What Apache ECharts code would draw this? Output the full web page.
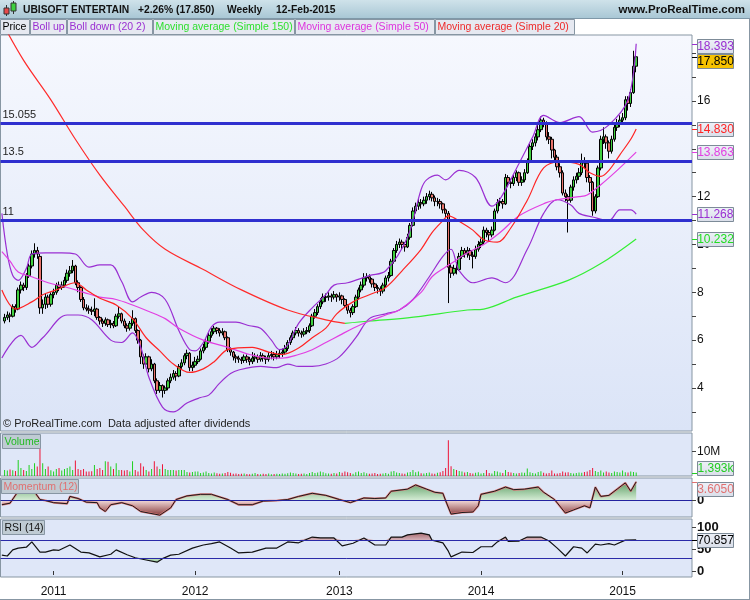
<!DOCTYPE html>
<html><head><meta charset="utf-8">
<script src="https://cdn.jsdelivr.net/npm/echarts@6/dist/echarts.min.js"></script>
<style>html,body{margin:0;padding:0;background:#fff}#c{width:750px;height:600px}</style>
</head><body><div id="c"></div>
<script>
// ---------- DATA ----------
const firstWeek = '2010-08-23';          // lead-in week (empty), candles start the week after
const weeksOnAxis = 254;
const yearLabels = ['2011', '2012', '2013', '2014', '2015'];
const levels = [15.055, 13.5, 11];
const levelLabels = ['15.055', '13.5', '11'];
// weekly candles [open, close, low, high]
const ohlc = [
[6.8,6.95,6.7,7.1],[6.95,7.05,6.85,7.2],[7.05,7.0,6.75,7.15],[7.0,7.4,6.95,7.5],[7.4,7.3,7.15,7.5],
[7.3,8.1,7.25,8.2],[8.1,8.3,7.95,8.45],[8.3,8.2,8.05,8.4],[8.2,8.7,8.1,8.8],[8.7,9.1,8.6,9.2],
[9.1,9.6,9.0,9.75],[9.6,9.75,9.45,10.05],[9.75,9.6,9.4,9.9],[9.5,7.35,7.1,9.6],[7.35,7.5,7.1,7.7],
[7.5,7.8,7.3,7.95],[7.8,7.5,7.35,7.9],[7.5,7.9,7.4,8.0],[7.9,8.0,7.75,8.15],[8.0,8.3,7.9,8.4],
[8.3,8.2,8.05,8.45],[8.2,8.3,8.1,8.45],[8.3,8.5,8.2,8.65],[8.5,8.8,8.4,8.95],[8.8,8.9,8.65,9.1],
[8.9,9.1,8.8,9.35],[9.1,8.4,8.3,9.15],[8.4,8.2,8.0,8.5],[8.2,7.7,7.6,8.25],[7.7,7.35,7.25,7.8],
[7.35,7.3,7.2,7.5],[7.3,7.25,7.1,7.45],[7.25,7.2,7.05,7.4],[7.2,7.3,7.0,7.75],[7.3,6.95,6.85,7.35],
[6.95,6.8,6.65,7.0],[6.8,6.7,6.55,6.9],[6.7,6.85,6.6,6.95],[6.85,6.65,6.55,6.9],[6.65,6.7,6.5,6.85],
[6.7,6.6,6.5,6.8],[6.6,7.0,6.55,7.1],[7.0,7.1,6.9,7.4],[7.1,6.8,6.7,7.15],[6.8,6.6,6.5,6.9],
[6.6,6.5,6.35,6.7],[6.5,6.7,6.4,6.8],[6.7,6.9,6.6,7.25],[6.9,6.4,6.3,6.95],[6.4,6.0,5.85,6.45],
[6.0,5.3,5.0,6.05],[5.3,5.0,4.8,5.4],[5.0,5.3,4.9,5.45],[5.3,4.8,4.65,5.35],[4.8,5.0,4.7,5.2],
[5.0,4.3,4.2,5.05],[4.3,3.9,3.75,4.4],[3.9,4.1,3.8,4.25],[4.1,3.9,3.6,4.15],[3.9,4.0,3.75,4.1],
[4.0,4.3,3.9,4.4],[4.3,4.45,4.2,4.6],[4.45,4.6,4.35,4.75],[4.6,4.5,4.3,4.7],[4.5,4.9,4.45,5.0],
[4.9,5.05,4.8,5.2],[5.05,5.35,4.95,5.45],[5.35,5.45,5.2,5.6],[5.45,4.85,4.7,5.5],[4.85,4.95,4.7,5.1],
[4.95,5.1,4.85,5.3],[5.1,5.2,5.0,5.35],[5.2,5.55,5.15,5.65],[5.55,5.7,5.45,5.85],[5.7,5.95,5.6,6.05],
[5.95,6.2,5.85,6.3],[6.2,6.35,6.1,6.5],[6.35,6.5,6.25,6.6],[6.5,6.4,6.25,6.55],[6.4,6.3,6.15,6.5],
[6.3,6.35,6.2,6.5],[6.35,6.1,6.0,6.4],[6.1,5.6,5.5,6.15],[5.6,5.5,5.35,5.7],[5.5,5.3,5.15,5.55],
[5.3,5.25,5.05,5.4],[5.25,5.2,5.05,5.35],[5.2,5.15,5.0,5.3],[5.15,5.3,5.05,5.4],[5.3,5.2,5.05,5.4],
[5.2,5.1,4.95,5.3],[5.1,5.25,5.0,5.5],[5.25,5.3,5.1,5.45],[5.3,5.2,5.05,5.4],[5.2,5.35,5.1,5.5],
[5.35,5.25,5.1,5.45],[5.25,5.2,5.0,5.35],[5.2,5.35,5.1,5.5],[5.35,5.4,5.2,5.55],[5.4,5.3,5.15,5.5],
[5.3,5.4,5.2,5.55],[5.4,5.45,5.25,5.6],[5.45,5.5,5.3,5.65],[5.5,5.65,5.4,5.8],[5.65,5.9,5.55,6.0],
[5.9,6.1,5.8,6.2],[6.1,6.3,6.0,6.4],[6.3,6.4,6.2,6.55],[6.4,6.3,6.15,6.5],[6.3,6.25,6.1,6.4],
[6.25,6.35,6.15,6.5],[6.35,6.4,6.25,6.55],[6.4,6.6,6.3,6.7],[6.6,7.0,6.55,7.1],[7.0,7.15,6.9,7.3],
[7.15,7.4,7.05,7.5],[7.4,7.6,7.3,7.75],[7.6,7.8,7.5,7.95],[7.8,7.8,7.6,7.95],[7.8,7.85,7.65,8.0],
[7.85,7.8,7.6,7.95],[7.8,7.9,7.7,8.05],[7.9,7.8,7.6,7.95],[7.8,7.85,7.65,8.0],[7.85,7.7,7.5,7.9],
[7.7,7.45,7.35,7.75],[7.45,7.25,7.1,7.5],[7.25,7.15,6.95,7.35],[7.15,7.4,7.05,7.5],[7.4,7.8,7.35,7.9],
[7.8,8.1,7.7,8.2],[8.1,8.3,8.0,8.45],[8.3,8.6,8.2,8.8],[8.6,8.65,8.45,8.8],[8.65,8.55,8.4,8.75],
[8.55,8.35,8.2,8.6],[8.35,8.2,8.05,8.4],[8.2,8.15,7.95,8.3],[8.15,8.05,7.85,8.25],[8.05,8.3,7.95,8.4],
[8.3,8.6,8.2,8.7],[8.6,8.7,8.45,8.85],[8.7,9.3,8.65,9.4],[9.3,9.75,9.2,9.85],[9.75,10.0,9.65,10.15],
[10.0,10.1,9.85,10.25],[10.1,10.0,9.8,10.2],[10.0,9.9,9.7,10.1],[9.9,10.3,9.85,10.45],[10.3,10.8,10.2,10.9],
[10.8,11.4,10.75,11.55],[11.4,11.6,11.3,11.75],[11.6,11.75,11.45,11.9],[11.75,11.7,11.5,11.9],[11.7,11.85,11.6,12.0],
[11.85,12.0,11.7,12.15],[12.0,12.1,11.85,12.25],[12.1,11.95,11.8,12.2],[11.95,11.8,11.6,12.05],[11.8,11.8,11.6,11.95],
[11.8,11.7,11.5,11.9],[11.7,11.45,11.3,11.75],[11.45,11.3,11.1,11.5],[11.3,9.05,7.55,11.4],[9.05,8.8,8.6,9.2],
[8.8,9.0,8.7,9.15],[9.0,8.95,8.75,9.25],[8.95,9.5,8.9,9.65],[9.5,9.75,9.4,9.9],[9.75,9.6,9.45,9.85],
[9.6,9.75,9.45,9.9],[9.75,9.55,9.35,9.85],[9.55,9.5,9.0,9.7],[9.5,9.8,9.4,9.95],[9.8,10.0,9.7,10.15],
[10.0,10.1,9.85,10.25],[10.1,10.6,10.0,10.75],[10.6,10.5,10.3,10.7],[10.5,10.4,10.1,10.6],[10.4,10.6,10.3,10.75],
[10.6,11.4,10.55,11.5],[11.4,11.75,11.3,11.9],[11.75,11.8,11.6,11.95],[11.8,11.7,11.5,11.9],[11.7,12.8,11.65,12.95],
[12.8,12.6,12.4,12.9],[12.6,12.55,12.35,12.75],[12.55,12.8,12.45,12.95],[12.8,13.0,12.65,13.1],[13.0,12.6,12.45,13.05],
[12.6,12.7,12.45,12.85],[12.7,13.0,12.6,13.15],[13.0,13.45,12.95,13.6],[13.45,14.1,13.4,14.2],[14.1,14.25,13.95,14.4],
[14.25,14.5,14.1,14.65],[14.5,14.8,14.35,15.0],[14.8,15.2,14.7,15.35],[15.2,15.1,14.9,15.3],[15.1,14.5,14.35,15.15],
[14.5,14.4,14.2,14.7],[14.4,13.95,13.6,14.5],[13.95,13.65,13.5,14.0],[13.65,13.25,13.1,13.75],[13.25,13.0,12.8,13.4],
[13.0,12.15,12.05,13.1],[12.15,12.0,11.8,12.3],[12.0,11.85,10.5,12.1],[11.85,12.4,11.75,12.5],[12.4,12.7,12.25,12.85],
[12.7,12.85,12.55,13.0],[12.85,13.0,12.7,13.2],[13.0,13.5,12.9,13.8],[13.5,13.4,13.2,13.65],[13.4,12.8,12.6,13.45],
[12.8,12.6,12.2,12.9],[12.6,11.4,11.2,12.65],[11.4,12.0,11.3,12.1],[12.0,13.2,11.95,13.3],[13.2,14.4,13.1,14.55],
[14.4,14.5,14.2,14.9],[14.5,14.25,14.0,14.6],[14.25,13.9,13.6,14.35],[13.9,14.4,13.8,14.55],[14.4,14.9,14.3,15.05],
[14.9,15.1,14.75,15.25],[15.1,15.2,14.9,15.4],[15.2,15.3,15.05,15.5],[15.3,16.05,15.2,16.2],[16.05,15.9,15.6,16.2],
[15.9,16.35,15.75,16.5],[16.35,17.455,16.3,18.1],[17.455,17.85,17.2,17.95]
];
// weekly volume, millions
const volume = [
2.4,2.2,2.6,2.3,2.0,6.5,3.2,2.4,2.0,4.5,2.8,5.2,3.8,13.0,5.2,2.8,3.8,2.3,1.8,2.8,
3.2,2.2,2.8,3.2,3.8,2.4,6.3,2.8,2.4,2.8,1.8,1.8,1.9,4.5,2.8,3.2,2.4,6.0,5.8,3.8,
2.8,5.2,2.4,2.4,2.2,2.4,1.8,6.0,2.4,1.8,5.2,3.8,2.4,1.8,2.8,6.0,3.8,2.8,4.8,2.8,
2.4,2.4,2.4,2.2,2.4,2.4,2.4,1.6,1.4,1.6,1.8,1.8,1.2,1.4,1.8,1.2,1.0,1.4,1.1,0.9,
1.0,1.2,1.6,1.3,0.9,1.0,0.8,0.9,1.0,0.8,0.7,0.9,1.2,0.8,0.7,0.9,0.8,1.0,0.7,0.8,
0.9,0.8,1.0,0.9,1.1,1.4,1.2,1.0,0.8,0.9,1.0,0.8,1.2,1.6,1.2,1.4,1.8,1.5,1.1,1.0,
0.9,1.2,1.0,1.6,1.3,1.8,1.5,1.2,0.9,1.5,1.8,1.2,1.5,1.1,0.9,1.0,1.2,0.8,0.9,1.0,
1.2,0.9,1.8,2.0,1.4,1.2,1.0,0.9,1.4,1.6,2.4,1.5,1.8,1.1,1.0,1.2,1.4,1.0,0.9,1.3,
1.5,2.0,3.2,14.5,3.9,2.8,2.4,2.0,1.8,1.4,1.6,1.2,1.0,1.3,1.5,1.0,1.2,2.4,1.2,1.0,
2.0,1.8,1.4,1.2,2.4,1.6,1.4,1.2,1.0,1.2,1.4,1.3,3.0,1.5,1.2,1.0,1.6,1.9,1.3,1.0,
1.2,2.2,1.0,1.0,1.2,1.8,1.4,1.5,1.2,1.0,1.2,1.4,1.3,1.6,1.8,2.4,3.2,2.0,1.6,2.2,
1.4,1.8,1.4,1.2,1.8,1.6,1.4,2.2,1.5,1.4,1.8,1.6,1.393
];
// indicator readings: [week index on axis, value]
const bollUp = [[0,11.3],[2,9.6],[4,8.7],[6,8.5],[9,9.0],[11,9.6],[16,9.65],[22,9.65],[27,9.6],[32,9.05],[36,9.15],[40,9.15],[44,8.45],[48,7.6],[51,7.8],[55,8.0],[60,7.7],[65,6.4],[69,5.6],[71,5.55],[74,5.9],[77,6.55],[80,6.75],[86,6.75],[91,6.6],[95,6.5],[99,6.0],[102,5.6],[105,5.8],[109,6.7],[114,7.35],[119,7.9],[122,8.3],[127,8.4],[135,8.7],[141,8.9],[149,10.3],[154,12.3],[156,12.7],[160,12.9],[163,12.7],[168,13.1],[174,12.8],[180,11.6],[183,11.9],[190,13.4],[195,14.5],[199,15.4],[205,15.1],[212,15.35],[217,14.7],[223,15.0],[230,16.05],[233,18.393]];
const bollDown = [[0,5.25],[7,6.2],[11,5.7],[15,6.1],[24,7.05],[28,7.05],[33,6.85],[40,6.0],[44,5.9],[48,6.3],[51,5.7],[54,4.45],[59,3.2],[63,3.0],[68,3.37],[73,3.6],[76,3.7],[80,4.2],[84,4.6],[87,4.75],[95,4.9],[101,4.85],[105,5.0],[109,4.9],[114,4.9],[119,5.0],[124,5.3],[130,6.1],[135,6.9],[141,7.1],[146,7.26],[151,7.7],[157,8.65],[162,9.5],[165,9.8],[167,9.2],[168,8.9],[173,8.4],[180,8.6],[185,8.4],[193,9.8],[199,11.3],[204,11.87],[209,11.65],[212,11.3],[217,11.15],[223,11.0],[227,11.45],[231,11.45],[233,11.268]];
const ma20 = [[0,8.1],[5,7.3],[11,7.6],[15,7.9],[20,8.1],[27,8.4],[31,8.1],[36,7.75],[42,7.47],[48,6.9],[53,6.1],[58,5.55],[63,5.0],[69,4.65],[74,4.8],[78,5.1],[83,5.6],[92,5.7],[98,5.5],[103,5.4],[109,5.67],[114,6.1],[119,6.5],[123,7.1],[129,7.6],[135,7.9],[141,8.2],[147,8.9],[154,9.8],[158,10.5],[162,11.0],[164,11.2],[169,10.9],[173,10.6],[177,10.2],[182,10.1],[187,10.7],[193,11.85],[199,13.2],[205,13.45],[212,13.35],[216,13.0],[220,12.85],[223,13.1],[227,13.75],[231,14.4],[233,14.83]];
const ma50 = [[0,9.7],[3,9.3],[6,8.85],[11,8.65],[17,8.4],[24,8.2],[30,8.0],[36,7.8],[42,7.7],[48,7.47],[54,7.2],[60,6.9],[65,6.5],[74,6.0],[83,5.7],[91,5.4],[98,5.25],[103,5.25],[109,5.4],[114,5.6],[119,5.9],[124,6.2],[129,6.5],[135,6.8],[141,7.05],[146,7.26],[154,8.0],[158,8.65],[163,9.06],[165,9.2],[171,9.65],[177,10.0],[183,10.5],[190,11.2],[200,11.75],[204,11.87],[212,12.0],[215,12.07],[220,12.5],[226,13.1],[233,13.863]];
const ma150Down = [[0,19.3],[8,17.7],[18,16.05],[27,14.4],[36,12.9],[45,11.6],[52,10.6],[60,9.8],[74,8.95],[88,8.1],[105,7.26],[119,6.85],[126,6.7]];
const ma150Up = [[126,6.7],[135,6.8],[149,6.93],[171,7.26],[177,7.3],[189,7.8],[208,8.5],[220,9.2],[233,10.232]];
const momentum = [[0,-0.8],[3,-0.5],[6,1.8],[8,2.6],[11,2.4],[14,0.2],[16,0],[19,-0.4],[24,-0.6],[25,0.8],[28,0.4],[31,-0.3],[35,-0.4],[36,-1.4],[38,-2.1],[40,-0.8],[44,-0.4],[48,-1.0],[51,-2.1],[54,-2.4],[58,-2.8],[62,-1.4],[64,0.2],[68,0.9],[73,1.2],[77,1.2],[83,0.2],[87,-0.8],[92,-0.8],[96,-0.1],[101,0],[105,0.2],[109,0.8],[114,1.4],[119,1.0],[124,0.2],[128,-0.4],[133,0.5],[137,0.4],[141,0.5],[143,1.8],[149,2.2],[152,3.0],[156,2.2],[159,1.6],[162,1.4],[163,0],[165,-2.6],[169,-2.3],[173,-2.2],[175,-1.0],[176,1.2],[181,1.8],[185,2.6],[188,2.1],[192,2.2],[197,2.6],[199,1.6],[203,0.2],[207,-2.4],[210,-1.8],[214,-1.0],[216,-1.4],[218,2.6],[220,0.8],[223,1.0],[226,2.2],[229,3.4],[231,1.8],[233,3.605]];
const rsi = [[0,36],[2,34],[4,48],[6,52],[9,54],[11,66],[14,43],[16,43],[19,48],[21,47],[25,59],[29,43],[32,41],[36,32],[40,38],[42,48],[46,37],[49,30],[53,25],[57,20],[59,28],[62,36],[65,38],[70,52],[74,59],[77,62],[80,66],[84,52],[87,41],[92,43],[97,52],[101,52],[105,66],[109,64],[114,77],[117,75],[122,75],[125,57],[129,63],[133,75],[137,59],[141,59],[143,77],[147,77],[149,82],[154,86],[157,82],[158,70],[162,64],[164,45],[165,32],[169,43],[173,42],[176,55],[180,55],[182,66],[185,77],[186,67],[190,68],[193,77],[198,77],[201,68],[204,52],[207,34],[210,55],[213,52],[215,41],[218,61],[220,59],[223,62],[225,59],[229,70],[233,70.857]];

// ---------- CHART ----------
const chart = echarts.init(document.getElementById('c'), null, {renderer: 'canvas'});
const DAY = 864e5;
const t0 = Date.parse(firstWeek + 'T00:00:00Z');
const cats = Array.from({length: weeksOnAxis}, (_, k) => new Date(t0 + k * 7 * DAY).toISOString().slice(0, 10));
const isYearStart = k => k > 0 && cats[k].slice(0, 4) !== cats[k - 1].slice(0, 4) && yearLabels.includes(cats[k].slice(0, 4));

const candleData = ohlc.map((d, i) => [i + 1, d[0], d[1], d[2], d[3]]);
const volData = volume.map((v, i) => ({value: [i + 1, v], itemStyle: {color: ohlc[i][1] >= ohlc[i][0] ? '#1fd01f' : '#ee1436'}}));

const FONT = 'Liberation Sans, Arial, sans-serif';
const G = [
  {top: 35, height: 396},
  {top: 433, height: 43},
  {top: 478, height: 39},
  {top: 519, height: 58}
];
const gradMain = new echarts.graphic.LinearGradient(0, 0, 0, 1, [{offset: 0, color: '#f6f8fe'}, {offset: 1, color: '#dbe4f7'}]);
const grids = G.map((g, i) => ({left: 0.5, width: 691.5, top: g.top, height: g.height, show: true,
  borderColor: '#8796a3', borderWidth: 1, backgroundColor: i === 0 ? gradMain : '#dfe7f8'}));

const xAxes = G.map((g, i) => ({
  type: 'category', gridIndex: i, data: cats, boundaryGap: true,
  axisLine: {show: false}, splitLine: {show: false},
  axisTick: {show: i === 3, alignWithLabel: true, interval: (k) => isYearStart(k), length: 4, lineStyle: {color: '#333'}},
  axisLabel: {show: i === 3, interval: (k) => isYearStart(k), formatter: v => v.slice(0, 4), color: '#111', fontFamily: FONT, fontSize: 12, margin: 9}
}));

const yCommon = {position: 'right', splitLine: {show: false}, axisLine: {show: false},
  axisTick: {show: true, length: 4, lineStyle: {color: '#444'}},
  axisLabel: {color: '#111', fontFamily: FONT, fontSize: 12, margin: 5}};
const priceTicks = [3,4,5,6,7,8,9,10,11,12,13,14,15,16,17,18];
const yAxes = [
  Object.assign({}, yCommon, {gridIndex: 0, min: 2.2, max: 18.76,
    axisTick: Object.assign({}, yCommon.axisTick, {customValues: priceTicks}),
    axisLabel: Object.assign({}, yCommon.axisLabel, {customValues: [4, 6, 8, 10, 12, 16]})}),
  Object.assign({}, yCommon, {gridIndex: 1, min: 0, max: 17.4,
    axisTick: Object.assign({}, yCommon.axisTick, {customValues: [10]}),
    axisLabel: Object.assign({}, yCommon.axisLabel, {customValues: [10], formatter: v => v + 'M'})}),
  Object.assign({}, yCommon, {gridIndex: 2, min: -3.16, max: 4.34,
    axisTick: Object.assign({}, yCommon.axisTick, {customValues: [0]}),
    axisLabel: Object.assign({}, yCommon.axisLabel, {customValues: [0], fontWeight: 'bold', fontSize: 13})}),
  Object.assign({}, yCommon, {gridIndex: 3, min: -13.6, max: 118,
    axisTick: Object.assign({}, yCommon.axisTick, {customValues: [0, 50, 100]}),
    axisLabel: Object.assign({}, yCommon.axisLabel, {customValues: [0, 50, 100], fontWeight: 'bold', fontSize: 13})})
];

const lineS = (data, color, name, width) => ({type: 'line', name, data, xAxisIndex: 0, yAxisIndex: 0, symbol: 'none',
  smooth: 0.35, lineStyle: {color, width: width || 1.2}, z: 3, silent: true});

const gradMomArea = new echarts.graphic.LinearGradient(0, 478, 0, 517, [
  {offset: 0, color: '#3f8b48'}, {offset: 0.58, color: '#d8eed8'}, {offset: 0.58, color: '#efd6d6'}, {offset: 1, color: '#7c2a2a'}], true);
const gradRsiHi = new echarts.graphic.LinearGradient(0, 527, 0, 541, [{offset: 0, color: '#7d2a2e'}, {offset: 1, color: '#dcbcc4'}], true);
const gradRsiLo = new echarts.graphic.LinearGradient(0, 557, 0, 571, [{offset: 0, color: '#cfe9cf'}, {offset: 1, color: '#3d8a44'}], true);

const series = [
  {type: 'candlestick', name: 'Price', xAxisIndex: 0, yAxisIndex: 0, data: candleData,
    encode: {x: 0, y: [1, 2, 3, 4]}, barWidth: 3,
    itemStyle: {color: '#3fd03f', color0: '#e8736b', borderColor: '#000', borderColor0: '#000', borderWidth: 1},
    z: 2, silent: true,
    markLine: {silent: true, symbol: 'none', z: 5, animation: false, precision: 3,
      lineStyle: {color: '#2f2fcf', width: 3, type: 'solid'},
      label: {show: true, position: 'insideStartTop', formatter: '{b}', color: '#222', fontFamily: FONT, fontSize: 11, distance: [2, 3]},
      data: levels.map((v, i) => ({yAxis: v, name: levelLabels[i]}))}},
  lineS(bollUp, '#9a2fd2', 'Boll up'),
  lineS(bollDown, '#9a2fd2', 'Boll down'),
  lineS(ma150Down, '#ff2b2b', 'MA150'),
  lineS(ma150Up, '#35ee35', 'MA150'),
  lineS(ma50, '#e23fe2', 'MA50'),
  lineS(ma20, '#ff2424', 'MA20'),
  {type: 'bar', xAxisIndex: 1, yAxisIndex: 1, data: volData, barWidth: 1, silent: true},
  {type: 'line', xAxisIndex: 2, yAxisIndex: 2, data: momentum, symbol: 'none', silent: true,
    lineStyle: {color: '#e07a7a', width: 2}, areaStyle: {color: gradMomArea, opacity: 1},
    markLine: {silent: true, symbol: 'none', animation: false, lineStyle: {color: '#23239f', width: 1, type: 'solid'}, label: {show: false}, data: [{yAxis: 0}]}},
  {type: 'line', xAxisIndex: 2, yAxisIndex: 2, data: momentum, symbol: 'none', silent: true, lineStyle: {color: '#1a1a1a', width: 1}},
  {type: 'line', xAxisIndex: 3, yAxisIndex: 3, stack: 'hi', data: rsi.map(d => [d[0], 70]), symbol: 'none', silent: true, lineStyle: {width: 0}},
  {type: 'line', xAxisIndex: 3, yAxisIndex: 3, stack: 'hi', data: rsi.map(d => [d[0], Math.max(d[1] - 70, 0)]), symbol: 'none', silent: true, lineStyle: {width: 0}, areaStyle: {color: gradRsiHi, opacity: 1}},
  {type: 'line', xAxisIndex: 3, yAxisIndex: 3, stack: 'lo', data: rsi.map(d => [d[0], Math.min(d[1], 30)]), symbol: 'none', silent: true, lineStyle: {width: 0}},
  {type: 'line', xAxisIndex: 3, yAxisIndex: 3, stack: 'lo', data: rsi.map(d => [d[0], 30 - Math.min(d[1], 30)]), symbol: 'none', silent: true, lineStyle: {width: 0}, areaStyle: {color: gradRsiLo, opacity: 1}},
  {type: 'line', xAxisIndex: 3, yAxisIndex: 3, data: rsi, symbol: 'none', silent: true, lineStyle: {color: '#111', width: 1.2},
    markLine: {silent: true, symbol: 'none', animation: false, lineStyle: {color: '#2a2aa8', width: 1, type: 'solid'}, label: {show: false}, data: [{yAxis: 30}, {yAxis: 70}]}}
];

// static decorations
const boxFill = new echarts.graphic.LinearGradient(0, 0, 0, 1, [{offset: 0, color: '#eef1f8'}, {offset: 1, color: '#d9dee9'}]);
const legendItems = [
  ['Price', '#000', 0, 29], ['Boll up', '#9a2fd2', 30, 36], ['Boll down (20 2)', '#9a2fd2', 67, 85],
  ['Moving average (Simple 150)', '#2fe02f', 153, 141], ['Moving average (Simple 50)', '#dd33dd', 295, 139],
  ['Moving average (Simple 20)', '#ee2a2a', 435, 139]
];
const TF = 'bold 10.3px ' + FONT;
const staticG = [
  {type: 'rect', shape: {x: 0, y: 0, width: 750, height: 18}, style: {fill: new echarts.graphic.LinearGradient(0, 0, 0, 1, [{offset: 0, color: '#cfe2ea'}, {offset: 1, color: '#a9c7d5'}])}, silent: true},
  {type: 'line', shape: {x1: 0, y1: 18.5, x2: 750, y2: 18.5}, style: {stroke: '#7f98a8', lineWidth: 1}, silent: true},
  // icon
  {type: 'line', shape: {x1: 6.5, y1: 5, x2: 6.5, y2: 16}, style: {stroke: '#333', lineWidth: 1}, silent: true},
  {type: 'rect', shape: {x: 4, y: 8, width: 5, height: 6}, style: {fill: '#e84a4a', stroke: '#333', lineWidth: 1}, silent: true},
  {type: 'line', shape: {x1: 13.5, y1: 1, x2: 13.5, y2: 14}, style: {stroke: '#333', lineWidth: 1}, silent: true},
  {type: 'rect', shape: {x: 11, y: 3, width: 5, height: 8}, style: {fill: '#3fd03f', stroke: '#333', lineWidth: 1}, silent: true},
  {type: 'text', x: 23, y: 10, style: {text: 'UBISOFT ENTERTAIN', font: TF, fill: '#111', verticalAlign: 'middle'}, silent: true},
  {type: 'text', x: 138, y: 10, style: {text: '+2.26% (17.850)', font: TF, fill: '#111', verticalAlign: 'middle'}, silent: true},
  {type: 'text', x: 227, y: 10, style: {text: 'Weekly', font: TF, fill: '#111', verticalAlign: 'middle'}, silent: true},
  {type: 'text', x: 276, y: 10, style: {text: '12-Feb-2015', font: TF, fill: '#111', verticalAlign: 'middle'}, silent: true},
  {type: 'text', x: 745, y: 10, style: {text: 'www.ProRealTime.com', font: 'bold 11.5px ' + FONT, fill: '#111', align: 'right', verticalAlign: 'middle'}, silent: true},
  {type: 'line', shape: {x1: 749.5, y1: 18, x2: 749.5, y2: 600}, style: {stroke: '#8796a3', lineWidth: 1}, silent: true},
  {type: 'line', shape: {x1: 0, y1: 599.5, x2: 750, y2: 599.5}, style: {stroke: '#8796a3', lineWidth: 1}, silent: true},
  {type: 'text', x: 3, y: 424, style: {text: '\u00a9 ProRealTime.com  Data adjusted after dividends', font: '11px ' + FONT, fill: '#222', verticalAlign: 'middle'}, silent: true, z: 10}
];
legendItems.forEach(([t, c, x, w]) => {
  staticG.push({type: 'rect', shape: {x: x + 0.5, y: 19.5, width: w, height: 15}, style: {fill: '#e6e9f1', stroke: '#8796a3', lineWidth: 1}, silent: true});
  staticG.push({type: 'text', x: x + 2.5, y: 27.5, style: {text: t, font: '10.5px ' + FONT, fill: c, verticalAlign: 'middle'}, silent: true});
});
[['Volume', '#22bb22', 2, 434, 38], ['Momentum (12)', '#e07070', 1, 479, 77], ['RSI (14)', '#111', 2, 520, 42]].forEach(([t, c, x, y, w]) => {
  staticG.push({type: 'rect', shape: {x: x + 0.5, y: y + 0.5, width: w, height: 14}, style: {fill: '#bfcbd3', stroke: '#8796a3', lineWidth: 1}, silent: true, z: 10});
  staticG.push({type: 'text', x: x + 2.5, y: y + 8, style: {text: t, font: '10.5px ' + FONT, fill: c, verticalAlign: 'middle'}, silent: true, z: 11});
});

chart.setOption({
  animation: false, backgroundColor: '#ffffff',
  grid: grids, xAxis: xAxes, yAxis: yAxes, series, graphic: staticG
});

// value boxes on the right, positioned through the axes
const last = a => a[a.length - 1];
const lastClose = last(ohlc)[1];
const boxes = [
  {g: 0, v: last(bollUp)[1], t: last(bollUp)[1].toFixed(3), c: '#9a2fd2'},
  {g: 0, v: lastClose, t: lastClose.toFixed(3), c: '#000', bg: '#f6c200'},
  {g: 0, v: last(ma20)[1], t: last(ma20)[1].toFixed(3), c: '#ff2424'},
  {g: 0, v: last(ma50)[1], t: last(ma50)[1].toFixed(3), c: '#e23fe2'},
  {g: 0, v: last(bollDown)[1], t: last(bollDown)[1].toFixed(3), c: '#9a2fd2'},
  {g: 0, v: last(ma150Up)[1], t: last(ma150Up)[1].toFixed(3), c: '#22dd22'},
  {g: 1, v: last(volume), t: Math.round(last(volume) * 1000).toLocaleString('en-US') + 'k', c: '#22cc22'},
  {g: 2, v: last(momentum)[1], t: last(momentum)[1].toFixed(4), c: '#e07070'},
  {g: 3, v: last(rsi)[1], t: last(rsi)[1].toFixed(3), c: '#000'}
];
const BH = 14;
boxes.forEach(b => {
  b.y = chart.convertToPixel({xAxisIndex: b.g, yAxisIndex: b.g}, [0, b.v])[1];
  b.cy = b.y;
});
for (let g = 0; g < 4; g++) {
  const list = boxes.filter(b => b.g === g).sort((a, b) => a.y - b.y);
  const top = G[g].top, bot = G[g].top + G[g].height;
  list.forEach((b, i) => {
    b.cy = Math.max(b.cy, top + BH / 2 + 4);
    b.cy = Math.min(b.cy, bot - BH / 2 - 1);
    if (i > 0 && b.cy < list[i - 1].cy + BH + 1) b.cy = list[i - 1].cy + BH + 1;
  });
}
const boxG = [];
boxes.forEach(b => {
  boxG.push({type: 'line', shape: {x1: 692, y1: Math.round(b.y) + 0.5, x2: 697, y2: Math.round(b.y) + 0.5}, style: {stroke: b.c, lineWidth: 1}, silent: true, z: 20});
  boxG.push({type: 'rect', shape: {x: 697.5, y: Math.round(b.cy - BH / 2) + 0.5, width: 36, height: BH}, style: {fill: b.bg || boxFill, stroke: '#7d8b98', lineWidth: 1}, silent: true, z: 20});
  boxG.push({type: 'text', x: 715.5, y: Math.round(b.cy) + 1, style: {text: b.t, font: '12px ' + FONT, fill: b.c, align: 'center', verticalAlign: 'middle'}, silent: true, z: 21});
});
chart.setOption({graphic: staticG.concat(boxG)});
</script>
</body></html>
